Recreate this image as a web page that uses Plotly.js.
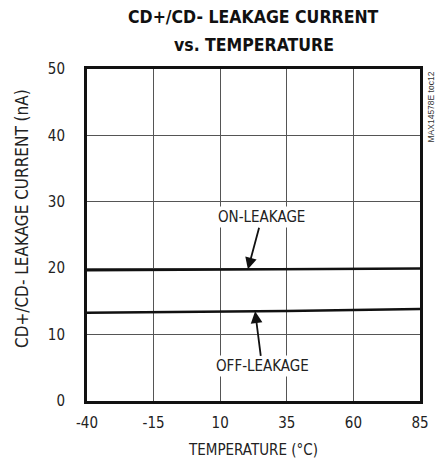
<!DOCTYPE html>
<html><head><meta charset="utf-8">
<script src="https://cdn.plot.ly/plotly-3.0.1.min.js"></script>
<style>html,body{margin:0;padding:0;background:#fff}#chart{width:440px;height:464px}</style>
</head><body><div id="chart"></div>
<script>
const temperature = [-40, -15, 10, 35, 60, 85];
const onLeakage = [19.7, 19.75, 19.8, 19.85, 19.9, 19.95];
const offLeakage = [13.3, 13.35, 13.45, 13.55, 13.7, 13.85];
const xTicks = [-40, -15, 10, 35, 60, 85];
const yTicks = [0, 10, 20, 30, 40, 50];

const font = "'Liberation Sans Narrow', 'DejaVu Sans Condensed', sans-serif";
const traces = [
  {x: temperature, y: onLeakage, mode: 'lines', line: {color: '#111', width: 2.4}, hoverinfo: 'none'},
  {x: temperature, y: offLeakage, mode: 'lines', line: {color: '#111', width: 2.4}, hoverinfo: 'none'}
];
const layout = {
  width: 440, height: 464,
  margin: {l: 87, r: 20, t: 69, b: 63},
  paper_bgcolor: '#fff', plot_bgcolor: '#fff',
  showlegend: false,
  font: {family: font, color: '#222', size: 14},
  xaxis: {range: [-40, 85], tickvals: xTicks, ticktext: xTicks.map(String), showgrid: true, gridcolor: '#555', gridwidth: 1,
          zeroline: false, showline: true, mirror: true, linecolor: '#111', linewidth: 3, ticks: '', ticklen: 0,
          ticklabelstandoff: 6,
          tickfont: {family: font, size: 15, color: '#222'},
          title: {text: 'TEMPERATURE (°C)', font: {family: font, size: 15, color: '#222'}, standoff: 14}},
  yaxis: {range: [0, 50], tickvals: yTicks, ticktext: yTicks.map(String), showgrid: true, gridcolor: '#555', gridwidth: 1,
          zeroline: false, showline: true, mirror: true, linecolor: '#111', linewidth: 3, ticks: '', ticklen: 0,
          ticklabelstandoff: 16,
          tickfont: {family: font, size: 15, color: '#222'}},
  annotations: [
    {xref: 'paper', yref: 'paper', x: 0.5, y: 1, yshift: 69 - 17, xanchor: 'center', yanchor: 'middle', showarrow: false,
     text: '<b>CD+/CD- LEAKAGE CURRENT</b>', font: {family: font, size: 17.5, color: '#111'}},
    {xref: 'paper', yref: 'paper', x: 0.5, y: 1, yshift: 69 - 45, xanchor: 'center', yanchor: 'middle', showarrow: false,
     text: '<b>vs. TEMPERATURE</b>', font: {family: font, size: 17.5, color: '#111'}},
    {xref: 'paper', yref: 'paper', x: 0, xshift: 22 - 87, y: 0, yshift: 401 - 219, xanchor: 'center', yanchor: 'middle',
     showarrow: false, textangle: -90, text: 'CD+/CD- LEAKAGE CURRENT (nA)', font: {family: font, size: 17, color: '#222'}},
    {x: 20.4, y: 19.83, xref: 'x', yref: 'y', text: 'ON-LEAKAGE', showarrow: true, arrowhead: 2, arrowsize: 1.3, arrowwidth: 1.8,
     arrowcolor: '#111', ax: 14, ay: -52, font: {family: font, size: 15, color: '#222'},
     bgcolor: '#fff', borderpad: 1},
    {x: 23.1, y: 13.5, xref: 'x', yref: 'y', text: 'OFF-LEAKAGE', showarrow: true, arrowhead: 2, arrowsize: 1.3, arrowwidth: 1.8,
     arrowcolor: '#111', ax: 7, ay: 55, font: {family: font, size: 15, color: '#222'},
     bgcolor: '#fff', borderpad: 1},
    {xref: 'paper', yref: 'paper', x: 1.012, y: 1.0, xanchor: 'left', yanchor: 'top', text: 'MAX14578E toc12', textangle: -90,
     showarrow: false, font: {family: "'Liberation Sans', sans-serif", size: 8.5, color: '#333'}}
  ]
};
Plotly.newPlot('chart', traces, layout, {displayModeBar: false, staticPlot: true});
</script></body></html>
